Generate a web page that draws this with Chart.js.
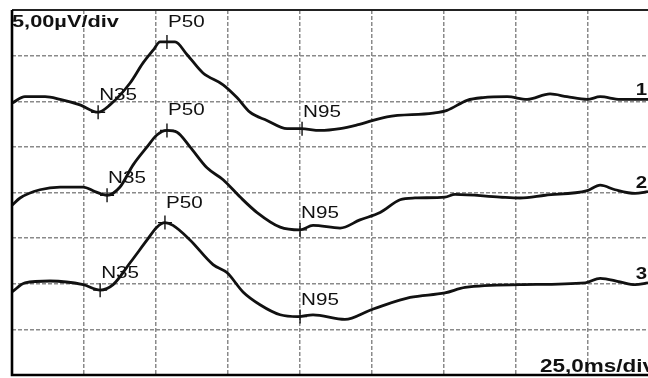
<!DOCTYPE html>
<html>
<head>
<meta charset="utf-8">
<script src="https://cdn.jsdelivr.net/npm/chart.js@4"></script>
<style>
  html, body { margin: 0; padding: 0; background: #fff; overflow: hidden; }
  #wrap { width: 648px; height: 378px; position: relative; }
</style>
</head>
<body>
<div id="wrap"><canvas id="perg"></canvas></div>
<script>
// time in ms, amplitude in µV (traces stacked on one 5 µV/div scale)
const trace1Ms = [0, 4.5, 11.5, 16.7, 23.6, 29.9, 34.0, 41.0, 45.5, 49.0, 51.4, 53.8, 56.6, 60.8, 66.3, 73.3, 78.1, 82.6, 88.5, 95.5, 100.3, 106.9, 113.9, 119.8, 130.2, 146.2, 151.0, 158.0, 163.5, 171.9, 178.8, 186.8, 192.7, 199.7, 204.2, 211.1, 220.8];
const trace1Uv = [29.8, 30.5, 30.5, 30.2, 29.6, 28.8, 29.6, 32.0, 34.2, 35.6, 36.5, 36.5, 36.5, 35.1, 33.1, 31.8, 30.4, 28.8, 27.9, 27.0, 27.0, 26.8, 27.0, 27.4, 28.3, 28.7, 29.0, 30.1, 30.4, 30.5, 30.2, 30.8, 30.5, 30.2, 30.5, 30.2, 30.2];

const trace2Ms = [0, 2.8, 9.7, 16.7, 24.7, 28.8, 33.0, 37.5, 42.0, 46.9, 50.3, 53.8, 57.3, 61.8, 67.7, 73.3, 79.2, 85.1, 93.1, 100.0, 104.5, 113.9, 120.8, 127.8, 134.7, 139.9, 150.3, 153.8, 169.4, 176.4, 185.1, 199.7, 204.2, 209.4, 216.3, 220.8];
const trace2Uv = [18.6, 19.4, 20.3, 20.6, 20.6, 20.1, 19.7, 20.6, 23.0, 25.0, 26.3, 26.8, 26.6, 25.0, 22.7, 21.4, 19.5, 17.8, 16.2, 15.9, 16.4, 16.1, 17.0, 17.8, 19.2, 19.4, 19.5, 19.8, 19.5, 19.4, 19.7, 20.2, 20.8, 20.3, 19.9, 20.1];

const trace3Ms = [0, 4.5, 13.2, 24.7, 30.6, 35.1, 41.0, 46.9, 50.3, 53.1, 55.9, 61.8, 69.8, 74.7, 80.2, 86.1, 93.1, 99.3, 104.5, 115.6, 124.3, 127.8, 138.2, 150.3, 157.3, 176.4, 199.0, 204.2, 211.1, 216.3, 220.8];
const trace3Uv = [9.1, 10.1, 10.3, 9.9, 9.3, 9.9, 12.3, 14.8, 16.2, 16.7, 16.4, 14.8, 12.1, 11.2, 9.1, 7.7, 6.6, 6.4, 6.6, 6.1, 7.1, 7.5, 8.5, 9.0, 9.6, 9.9, 10.1, 10.6, 10.2, 9.9, 10.1];

// N35, P50, N95 markers per trace
const peakNames = ['N35', 'P50', 'N95'];
const peaks1Ms = [29.9, 53.8, 100.7];
const peaks1Uv = [28.8, 36.5, 27.0];
const peaks2Ms = [33.0, 53.8, 100.0];
const peaks2Uv = [19.7, 26.8, 15.9];
const peaks3Ms = [30.6, 53.1, 100.0];
const peaks3Uv = [9.3, 16.7, 6.4];

const traceNames = ['1', '2', '3'];
const xMaxMs = 220.8;
const msPerDiv = 25;
const uvPerDiv = 5;
const yDivs = 8;

function toPoints(xs, ys) {
    return xs.map((x, i) => ({ x: x, y: ys[i] }));
}

const traces = [
    toPoints(trace1Ms, trace1Uv),
    toPoints(trace2Ms, trace2Uv),
    toPoints(trace3Ms, trace3Uv)
];
const peaks = [
    toPoints(peaks1Ms, peaks1Uv),
    toPoints(peaks2Ms, peaks2Uv),
    toPoints(peaks3Ms, peaks3Uv)
];

const datasets = [];
traces.forEach((pts) => {
    datasets.push({
        type: 'line',
        data: pts,
        borderColor: '#111',
        borderWidth: 2.8,
        pointRadius: 0,
        cubicInterpolationMode: 'monotone',
        fill: false
    });
});
peaks.forEach((pts) => {
    datasets.push({
        type: 'scatter',
        data: pts,
        pointStyle: 'cross',
        pointRadius: 7,
        borderColor: '#111',
        borderWidth: 1.4,
        backgroundColor: '#111'
    });
});

function stretchedText(ctx, text, x, y, sx, align) {
    ctx.save();
    ctx.translate(x, y);
    ctx.scale(sx, 1);
    ctx.textAlign = align || 'left';
    ctx.fillText(text, 0, 0);
    ctx.restore();
}

const annotate = {
    id: 'annotate',
    afterDatasetsDraw(chart) {
        const ctx = chart.ctx;
        const xs = chart.scales.x;
        const ys = chart.scales.y;
        const area = chart.chartArea;

        // frame
        ctx.save();
        ctx.strokeStyle = '#222';
        ctx.lineWidth = 2;
        ctx.beginPath();
        ctx.moveTo(area.right + 2, area.top);
        ctx.lineTo(area.left, area.top);
        ctx.stroke();
        ctx.strokeStyle = '#000';
        ctx.lineWidth = 2.6;
        ctx.beginPath();
        ctx.moveTo(area.left, area.top);
        ctx.lineTo(area.left, area.bottom);
        ctx.lineTo(area.right + 2, area.bottom);
        ctx.stroke();
        ctx.restore();

        ctx.save();
        ctx.fillStyle = '#111';
        ctx.textBaseline = 'alphabetic';

        // peak labels
        ctx.font = '16.5px "Liberation Sans", Arial, sans-serif';
        peaks.forEach((pts) => {
            pts.forEach((p, i) => {
                const px = xs.getPixelForValue(p.x);
                const py = ys.getPixelForValue(p.y);
                const up = peakNames[i] === 'P50' ? 15 : 12;
                stretchedText(ctx, peakNames[i], px + 1, py - up, 1.25);
            });
        });

        // trace numbers
        ctx.font = 'bold 17px "Liberation Sans", Arial, sans-serif';
        traces.forEach((pts, i) => {
            const last = pts[pts.length - 1];
            stretchedText(ctx, traceNames[i], area.right - 1, ys.getPixelForValue(last.y) - 4, 1.2, 'right');
        });

        // scale captions
        ctx.font = 'bold 17px "Liberation Sans", Arial, sans-serif';
        stretchedText(ctx, uvPerDiv.toFixed(2).replace('.', ',') + 'µV/div', area.left, area.top + 17, 1.28);
        ctx.font = 'bold 18px "Liberation Sans", Arial, sans-serif';
        stretchedText(ctx, msPerDiv.toFixed(1).replace('.', ',') + 'ms/div', 540, area.bottom - 3, 1.25);
        ctx.restore();
    }
};

new Chart(document.getElementById('perg'), {
    data: { datasets: datasets },
    options: {
        responsive: true,
        maintainAspectRatio: false,
        animation: false,
        layout: { autoPadding: false, padding: { left: 12, top: 10, right: 0, bottom: 3 } },
        plugins: {
            legend: { display: false },
            tooltip: { enabled: false }
        },
        scales: {
            x: {
                type: 'linear',
                min: 0,
                max: xMaxMs,
                ticks: { display: false, stepSize: msPerDiv, includeBounds: false },
                grid: { color: '#8a8a8a', lineWidth: 1.5, drawTicks: false },
                border: { display: false, dash: [4, 2] }
            },
            y: {
                type: 'linear',
                min: 0,
                max: uvPerDiv * yDivs,
                ticks: { display: false, stepSize: uvPerDiv },
                grid: { color: '#8a8a8a', lineWidth: 1.5, drawTicks: false },
                border: { display: false, dash: [4, 2] }
            }
        }
    },
    plugins: [annotate]
});
</script>
</body>
</html>
